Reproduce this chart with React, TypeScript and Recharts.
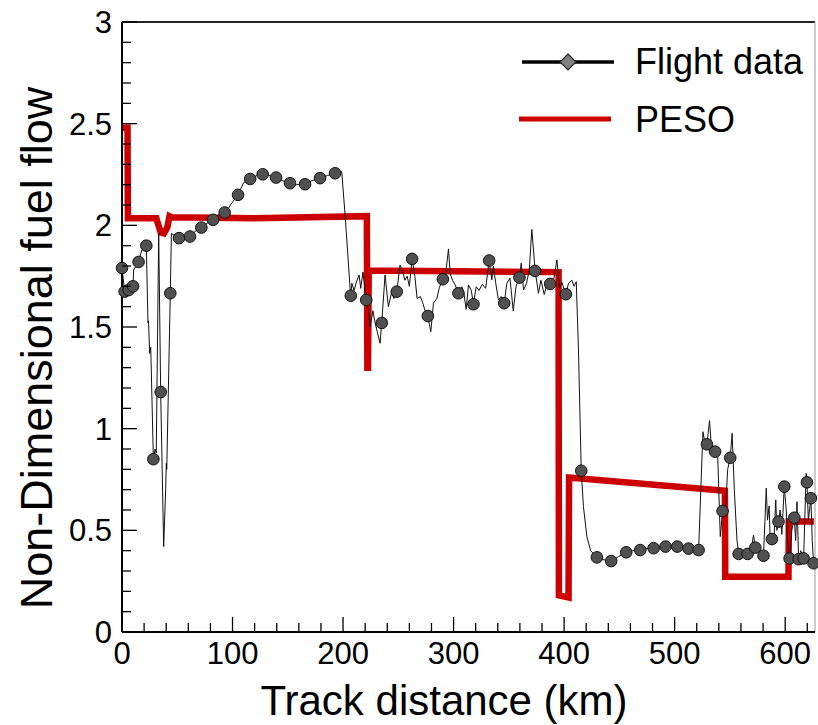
import { ComposedChart, Line, XAxis, YAxis, Legend, ReferenceLine } from "recharts";

// PESO optimised fuel flow (step profile)
const pesoKm = [0, 5, 5.3, 31, 33, 35, 38, 41, 43, 45, 120, 221.5, 222, 222.6, 223.2, 300, 395, 395.3, 404, 404.5, 545.5, 545.8, 603, 603.3, 626];
const pesoFuel = [2.48, 2.48, 2.035, 2.035, 2.0, 1.965, 1.96, 1.99, 2.045, 2.04, 2.035, 2.045, 1.3, 1.3, 1.778, 1.774, 1.77, 0.18, 0.17, 0.76, 0.695, 0.272, 0.272, 0.543, 0.543];

// recorded flight data (thin trace)
const flightKm = [
  0, 2.4, 6, 10, 10.5, 15, 18, 22, 23.5, 24, 25, 26, 28.4, 30, 31, 33.2, 35, 37.7, 39.5, 40.1, 40.5, 43.7, 44.7,
  51.6, 56, 61.5, 66, 71.8, 77, 82.4, 87, 92.9, 96, 98, 105, 110, 116, 122, 127.3, 133, 139.4, 145, 152, 158,
  165.6, 172, 179.2, 186, 192.8, 198.8, 202, 205, 206.5, 207, 208, 210, 212, 214.5, 216, 218, 221, 223, 224.5,
  227, 229, 233.5, 235, 238, 241, 244, 246, 248.6, 251.6, 254, 256, 258, 260, 262.5, 265, 267, 270, 272, 274,
  276.7, 279.4, 281.8, 284.8, 287.2, 290.3, 293, 295.4, 296.9, 299, 301.4, 304.4, 307.5, 309.5, 311.4, 313.5,
  316, 318, 320.4, 323, 326, 329, 332.2, 334.6, 336, 338, 340.6, 343, 345.8, 348.2, 351, 354, 356.5, 359.6,
  361.2, 363.3, 366, 368.5, 370.8, 373.8, 376.8, 379, 382, 384.5, 387.4, 390.5, 393.5, 395.8, 398, 401.6, 404,
  407, 409, 411, 413, 415.5, 417.5, 420.6, 424, 429.7, 436, 442.6, 449, 456.2, 462, 468.9, 475, 481, 486, 491.8,
  497, 502.4, 507, 512.6, 517, 521.7, 525.6, 527, 529.2, 531.6, 533, 536.6, 539, 541.3, 543.4, 546, 548, 550.3,
  552, 554, 556.4, 557.9, 562, 566, 569, 571.4, 573, 576, 580.4, 582.9, 584, 585.5, 586.5, 588, 590, 591.5,
  592.5, 594, 595.5, 597, 599.2, 601, 602.5, 604, 606, 608.3, 609.5, 610.7, 612.2, 614, 616.7, 618, 619, 619.7,
  621, 623.3, 624.5, 625.7,
];
const flightFuel = [
  1.79, 1.674, 1.682, 1.7, 1.78, 1.82, 1.88, 1.9, 1.52, 1.53, 1.37, 1.4, 0.85, 0.9, 0.88, 1.96, 1.18, 0.42, 0.7, 0.83, 0.8, 1.666, 1.96,
  1.937, 1.94, 1.945, 1.97, 1.989, 2.01, 2.027, 2.05, 2.063, 2.08, 2.1, 2.15, 2.21, 2.228, 2.245, 2.251, 2.245, 2.235, 2.22, 2.207, 2.2,
  2.202, 2.22, 2.232, 2.245, 2.256, 2.264, 2.04, 1.8, 1.68, 1.654, 1.715, 1.68, 1.72, 1.756, 1.69, 1.77, 1.633, 1.584, 1.5,
  1.58, 1.52, 1.42, 1.52, 1.756, 1.6, 1.67, 1.64, 1.674, 1.805, 1.77, 1.73, 1.75, 1.7, 1.835, 1.748, 1.64, 1.65, 1.62, 1.584,
  1.554, 1.477, 1.617, 1.64, 1.695, 1.735, 1.77, 1.884, 1.764, 1.73, 1.707, 1.666, 1.698, 1.66, 1.587, 1.707,
  1.68, 1.612, 1.698, 1.68, 1.71, 1.69, 1.827, 1.732, 1.8, 1.72, 1.633, 1.65, 1.617, 1.715, 1.74, 1.579, 1.7, 1.743,
  1.814, 1.682, 1.715, 1.78, 1.98, 1.776, 1.666, 1.73, 1.66, 1.71, 1.712, 1.73, 1.83, 1.69, 1.72, 1.661, 1.715,
  1.73, 1.7, 1.723, 1.387, 0.793, 0.616, 0.469, 0.4, 0.367, 0.355, 0.349, 0.37, 0.392, 0.4, 0.403, 0.41, 0.412, 0.42, 0.42,
  0.42, 0.42, 0.415, 0.41, 0.405, 0.403, 0.985, 0.94, 0.923, 1.04, 0.93, 0.887, 0.86, 0.469, 0.595, 0.6, 0.8, 0.857,
  0.977, 0.7, 0.452, 0.384, 0.38, 0.384, 0.4, 0.477, 0.415, 0.4, 0.375, 0.707, 0.55, 0.62, 0.44, 0.457, 0.47, 0.65,
  0.5, 0.543, 0.6, 0.48, 0.715, 0.6, 0.42, 0.362, 0.5, 0.562, 0.45, 0.641, 0.358, 0.4, 0.362, 0.6, 0.78, 0.736,
  0.55, 0.658, 0.45, 0.338,
];

// flight data samples shown with symbols
const markerKm = [
  0, 2.4, 6, 10, 15, 22, 28.4, 35, 43.7, 51.6, 61.5, 71.8, 82.4, 92.9, 105, 116, 127.3, 139.4, 152, 165.6, 179.2,
  192.8, 207, 221, 235, 248.6, 262.5, 276.7, 290.3, 304.4, 318, 332.2, 345.8, 359.6, 373.8, 387.4, 401.6, 415.5,
  429.7, 442.6, 456.2, 468.9, 481, 491.8, 502.4, 512.6, 521.7, 529.2, 536.6, 543.4, 550.3, 557.9, 566, 573, 580.4,
  588, 594, 599.2, 604, 608.3, 612.2, 616.7, 619.7, 623.3, 625.7,
];
const markerFuel = [
  1.79, 1.674, 1.682, 1.7, 1.82, 1.9, 0.85, 1.18, 1.666, 1.937, 1.945, 1.989, 2.027, 2.063, 2.15, 2.228, 2.251, 2.235, 2.207, 2.202, 2.232,
  2.256, 1.654, 1.633, 1.52, 1.674, 1.835, 1.554, 1.735, 1.666, 1.612, 1.827, 1.617, 1.743, 1.776, 1.712, 1.661, 0.793,
  0.367, 0.349, 0.392, 0.403, 0.412, 0.42, 0.42, 0.41, 0.403, 0.923, 0.887, 0.595, 0.857, 0.384, 0.384, 0.415, 0.375,
  0.457, 0.543, 0.715, 0.362, 0.562, 0.358, 0.362, 0.736, 0.658, 0.338,
];

const xTicks = [0, 20, 40, 60, 80, 100, 120, 140, 160, 180, 200, 220, 240, 260, 280, 300, 320, 340, 360, 380, 400, 420, 440, 460, 480, 500, 520, 540, 560, 580, 600, 620];
const xMajor = [0, 100, 200, 300, 400, 500, 600];
const yTicks = [0, 0.1, 0.2, 0.3, 0.4, 0.5, 0.6, 0.7, 0.8, 0.9, 1, 1.1, 1.2, 1.3, 1.4, 1.5, 1.6, 1.7, 1.8, 1.9, 2, 2.1, 2.2, 2.3, 2.4, 2.5, 2.6, 2.7, 2.8, 2.9, 3];
const yMajor = [0, 0.5, 1, 1.5, 2, 2.5, 3];

const pesoData = pesoKm.map((km, i) => ({ km, fuel: pesoFuel[i] }));
const flightData = flightKm.map((km, i) => ({ km, fuel: flightFuel[i] }));
const markerData = markerKm.map((km, i) => ({ km, fuel: markerFuel[i] }));

const FONT = "'Liberation Sans', Arial, sans-serif";

const XTick = (props: any) => {
  const { x, y, payload } = props;
  const v = payload.value;
  const major = xMajor.includes(v);
  return (
    <g>
      <line x1={x} y1={y} x2={x} y2={y - (major ? 15 : 9)} stroke="#000" strokeWidth={1.3} />
      {major && (
        <text x={x} y={y + 32} textAnchor="middle" fontSize={31} fontFamily={FONT} fill="#000">
          {v}
        </text>
      )}
    </g>
  );
};

const YTick = (props: any) => {
  const { x, y, payload } = props;
  const v = payload.value;
  const major = yMajor.some((m) => Math.abs(m - v) < 1e-6);
  return (
    <g>
      <line x1={x} y1={y} x2={x + (major ? 15 : 9)} y2={y} stroke="#000" strokeWidth={1.3} />
      {major && (
        <text x={x - 10} y={y + 11} textAnchor="end" fontSize={31} fontFamily={FONT} fill="#000">
          {v}
        </text>
      )}
    </g>
  );
};

const renderLegend = () => (
  <svg width={313} height={120} style={{ display: "block" }}>
    <line x1={17} y1={32} x2={109} y2={32} stroke="#000" strokeWidth={3.5} />
    <polygon points="63,24 71,32 63,40 55,32" fill="#808080" stroke="#222" strokeWidth={1.2} />
    <text x={130} y={44} fontSize={36} fontFamily={FONT} fill="#000">
      Flight data
    </text>
    <line x1={14} y1={89} x2={106} y2={89} stroke="#cc0000" strokeWidth={5} />
    <text x={130} y={102} fontSize={36} fontFamily={FONT} fill="#000">
      PESO
    </text>
  </svg>
);

export default function App() {
  return (
    <div style={{ position: "absolute", left: 0, top: 0, fontFamily: FONT }}>
      <ComposedChart width={818} height={725} margin={{ top: 22, right: 3, left: 0, bottom: 0 }}>
        <XAxis
          dataKey="km"
          type="number"
          domain={[0, 627]}
          ticks={xTicks}
          interval={0}
          tickSize={0}
          tickMargin={0}
          tickLine={false}
          height={93}
          axisLine={{ stroke: "#000", strokeWidth: 2 }}
          tick={<XTick />}
          label={{
            content: () => (
              <text x={444} y={715} textAnchor="middle" fontSize={42} fontFamily={FONT} fill="#000">
                Track distance (km)
              </text>
            ),
          }}
        />
        <YAxis
          type="number"
          domain={[0, 3]}
          ticks={yTicks}
          interval={0}
          tickSize={0}
          tickMargin={0}
          tickLine={false}
          width={122}
          axisLine={{ stroke: "#000", strokeWidth: 2 }}
          tick={<YTick />}
          label={{
            content: () => (
              <text
                x={52}
                y={348}
                textAnchor="middle"
                fontSize={45}
                fontFamily={FONT}
                fill="#000"
                transform="rotate(-90, 52, 348)"
              >
                Non-Dimensional fuel flow
              </text>
            ),
          }}
        />
        <ReferenceLine y={3} stroke="#222" strokeWidth={2} />
        <ReferenceLine x={627} stroke="#999" strokeWidth={1} />
        <Legend
          layout="vertical"
          align="center"
          verticalAlign="middle"
          content={renderLegend}
          wrapperStyle={{ left: 505, top: 30, width: 313, height: 120 }}
        />
        <Line
          data={pesoData}
          dataKey="fuel"
          type="linear"
          stroke="#cc0000"
          strokeWidth={6.5}
          strokeLinejoin="miter"
          dot={false}
          activeDot={false}
          isAnimationActive={false}
        />
        <Line
          data={flightData}
          dataKey="fuel"
          type="linear"
          stroke="#111"
          strokeWidth={1}
          dot={false}
          activeDot={false}
          isAnimationActive={false}
        />
        <Line
          data={markerData}
          dataKey="fuel"
          type="linear"
          stroke="none"
          dot={{ r: 5.8, fill: "#505050", stroke: "#111", strokeWidth: 1 }}
          activeDot={false}
          isAnimationActive={false}
        />
      </ComposedChart>
    </div>
  );
}
